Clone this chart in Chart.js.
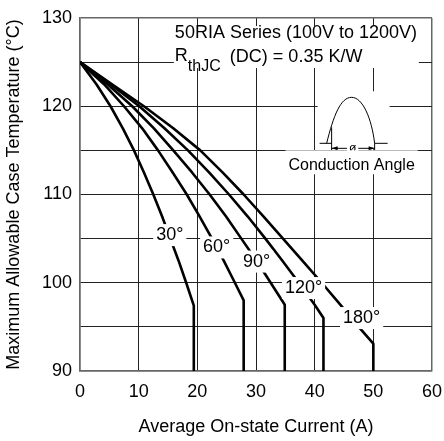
<!DOCTYPE html>
<html>
<head>
<meta charset="utf-8">
<script src="https://cdn.jsdelivr.net/npm/chart.js@4.4.1/dist/chart.umd.min.js"></script>
<style>
  html, body { margin: 0; padding: 0; background: #fff; }
  #wrap { width: 444px; height: 441px; }
</style>
</head>
<body>
<div id="wrap"><canvas id="caseTempChart" width="444" height="441"></canvas></div>
<script>
// curves: current (A) vs max case temperature (°C)
const angleLabels = ['30°', '60°', '90°', '120°', '180°'];

const amps30 = [0, 2.8, 5.2, 7.3, 9.2, 10.9, 12.5, 14.0, 15.4, 16.8, 18.1, 19.4, 19.4];
const temps30 = [125, 122.5, 120, 117.5, 115, 112.5, 110, 107.5, 105, 102.5, 100, 97.4, 90];

const amps60 = [0, 4.1, 7.5, 10.6, 13.3, 15.8, 18.2, 20.4, 22.5, 24.5, 26.4, 27.9, 27.9];
const temps60 = [125, 122.5, 120, 117.5, 115, 112.5, 110, 107.5, 105, 102.5, 100, 98.0, 90];

const amps90 = [0, 4.7, 8.9, 12.6, 15.9, 19.1, 22.1, 24.9, 27.5, 30.1, 32.5, 34.9, 34.9];
const temps90 = [125, 122.5, 120, 117.5, 115, 112.5, 110, 107.5, 105, 102.5, 100, 97.5, 90];

const amps120 = [0, 5.2, 10.1, 14.4, 18.4, 22.0, 25.4, 28.6, 31.6, 34.5, 37.3, 40.0, 41.5, 41.5];
const temps120 = [125, 122.5, 120, 117.5, 115, 112.5, 110, 107.5, 105, 102.5, 100, 97.5, 96.0, 90];

const amps180 = [0, 5.4, 10.9, 15.9, 20.5, 24.3, 27.9, 31.3, 34.6, 37.9, 41.2, 44.4, 47.5, 50.0, 50.0];
const temps180 = [125, 122.5, 120, 117.5, 115, 112.5, 110, 107.5, 105, 102.5, 100, 97.5, 95, 93.1, 90];

const xTickLabels = [0, 10, 20, 30, 40, 50, 60];
const yTickLabels = [90, 100, 110, 120, 130];

// where each angle caption sits on its curve (A, °C)
const captionAmps = [15.3, 23.3, 30.1, 38.1, 48.0];
const captionTemps = [105.4, 104.0, 102.4, 99.4, 96.0];

const FONT = '"Liberation Sans", Arial, sans-serif';

const curves = [
  [amps30, temps30],
  [amps60, temps60],
  [amps90, temps90],
  [amps120, temps120],
  [amps180, temps180],
];

const datasets = curves.map(([amps, temps], i) => ({
  label: angleLabels[i],
  data: amps.map((a, k) => ({ x: a, y: temps[k] })),
  borderColor: '#000',
  borderWidth: 2.6,
  borderJoinStyle: 'round',
  pointRadius: 0,
  showLine: true,
  tension: 0,
  fill: false,
}));

function whiteBox(ctx, x, y, w, h) {
  ctx.fillStyle = '#fff';
  ctx.fillRect(x, y, w, h);
}

const overlayPlugin = {
  id: 'overlay',
  afterDatasetsDraw(chart) {
    const { ctx } = chart;
    const xs = chart.scales.x;
    const ys = chart.scales.y;
    ctx.save();

    // angle captions on the curves
    ctx.font = '18px ' + FONT;
    ctx.textAlign = 'center';
    ctx.textBaseline = 'middle';
    angleLabels.forEach((txt, i) => {
      const px = xs.getPixelForValue(captionAmps[i]);
      const py = ys.getPixelForValue(captionTemps[i]);
      const w = ctx.measureText(txt).width;
      whiteBox(ctx, px - w / 2 - 3, py - 11, w + 6, 22);
      ctx.fillStyle = '#000';
      ctx.fillText(txt, px, py);
    });

    // header text block
    const hx = xs.getPixelForValue(16);
    const hy = ys.getPixelForValue(127.5);
    whiteBox(ctx, hx, hy - 14, 245, 42);
    ctx.fillStyle = '#000';
    ctx.textAlign = 'left';
    ctx.textBaseline = 'alphabetic';
    ctx.font = '18px ' + FONT;
    ctx.fillText('50RIA Series (100V to 1200V)', hx + 1, hy - 2);
    ctx.fillText('R', hx + 1, hy + 21);
    ctx.font = '16px ' + FONT;
    ctx.fillText('thJC', hx + 14, hy + 31);
    ctx.font = '18px ' + FONT;
    ctx.fillText('(DC) = 0.35 K/W', hx + 56, hy + 22);

    // conduction angle inset
    const cx = xs.getPixelForValue(46.3);
    const base = ys.getPixelForValue(115.8);
    whiteBox(ctx, cx - 34, base - 52, 72, 58);
    ctx.strokeStyle = '#000';
    ctx.lineWidth = 1;
    ctx.beginPath();
    ctx.moveTo(cx - 25, base);
    ctx.bezierCurveTo(cx - 18, base - 28, cx - 11, base - 46, cx, base - 46);
    ctx.bezierCurveTo(cx + 11, base - 46, cx + 20, base - 25, cx + 23, base);
    ctx.stroke();
    ctx.beginPath();
    ctx.moveTo(cx - 32, base); ctx.lineTo(cx - 20, base);
    ctx.moveTo(cx + 23, base); ctx.lineTo(cx + 36, base);
    ctx.moveTo(cx - 20, base - 16); ctx.lineTo(cx - 20, base + 8);
    ctx.moveTo(cx + 23, base); ctx.lineTo(cx + 23, base + 8);
    ctx.moveTo(cx - 20, base + 5); ctx.lineTo(cx + 23, base + 5);
    ctx.stroke();
    // arrow heads
    ctx.fillStyle = '#000';
    ctx.beginPath();
    ctx.moveTo(cx - 20, base + 5); ctx.lineTo(cx - 14, base + 3); ctx.lineTo(cx - 14, base + 7); ctx.closePath();
    ctx.moveTo(cx + 23, base + 5); ctx.lineTo(cx + 17, base + 3); ctx.lineTo(cx + 17, base + 7); ctx.closePath();
    ctx.fill();
    ctx.font = '12px ' + FONT;
    ctx.textAlign = 'center';
    ctx.textBaseline = 'middle';
    const ow = ctx.measureText('ø').width;
    whiteBox(ctx, cx + 1 - ow / 2 - 2, base, ow + 4, 10);
    ctx.fillStyle = '#000';
    ctx.fillText('ø', cx + 1, base + 5);

    ctx.font = '16px ' + FONT;
    const cw = ctx.measureText('Conduction Angle').width;
    whiteBox(ctx, cx - cw / 2 - 3, base + 7, cw + 6, 24);
    ctx.fillStyle = '#000';
    ctx.textBaseline = 'alphabetic';
    ctx.fillText('Conduction Angle', cx, base + 27);

    ctx.restore();
  },
};

const edgeOr = (edges, edgeVal, innerVal) => (c) =>
  edges.includes(c.tick.value) ? edgeVal : innerVal;

new Chart(document.getElementById('caseTempChart'), {
  type: 'scatter',
  data: { datasets },
  options: {
    responsive: false,
    animation: false,
    layout: { padding: { top: 18, right: 12, left: 0, bottom: 0 } },
    plugins: {
      legend: { display: false },
      tooltip: { enabled: false },
    },
    scales: {
      x: {
        type: 'linear',
        min: xTickLabels[0],
        max: xTickLabels[xTickLabels.length - 1],
        afterBuildTicks: (s) => { s.ticks = xTickLabels.map((v) => ({ value: v })); },
        afterFit: (s) => { s.height = 70; s.paddingLeft = 0; s.paddingRight = 0; },
        ticks: {
          padding: 10,
          color: '#000',
          autoSkip: false,
          maxRotation: 0,
          font: { family: FONT, size: 18 },
        },
        grid: {
          drawTicks: false,
          color: edgeOr([0, 60], '#666', '#222'),
          lineWidth: edgeOr([0, 60], 1.5, 1),
        },
        border: { color: '#666', width: 1.5 },
        title: {
          display: true,
          text: 'Average On-state Current (A)',
          color: '#000',
          font: { family: FONT, size: 18 },
          padding: { top: 0, bottom: 3 },
        },
      },
      y: {
        type: 'linear',
        min: yTickLabels[0],
        max: yTickLabels[yTickLabels.length - 1],
        ticks: {
          stepSize: 5,
          padding: 8,
          color: '#000',
          font: { family: FONT, size: 18 },
          callback: (v) => (yTickLabels.includes(v) ? String(v) : ''),
        },
        afterFit: (s) => { s.width = 80; s.paddingTop = 0; s.paddingBottom = 0; },
        grid: {
          drawTicks: false,
          color: edgeOr([90, 130], '#666', '#222'),
          lineWidth: edgeOr([90, 130], 1.5, 1),
        },
        border: { color: '#666', width: 1.5 },
        title: {
          display: true,
          text: 'Maximum Allowable Case Temperature (°C)',
          color: '#000',
          font: { family: FONT, size: 18 },
          padding: { top: 3, bottom: 0 },
        },
      },
    },
  },
  plugins: [overlayPlugin],
});
</script>
</body>
</html>
